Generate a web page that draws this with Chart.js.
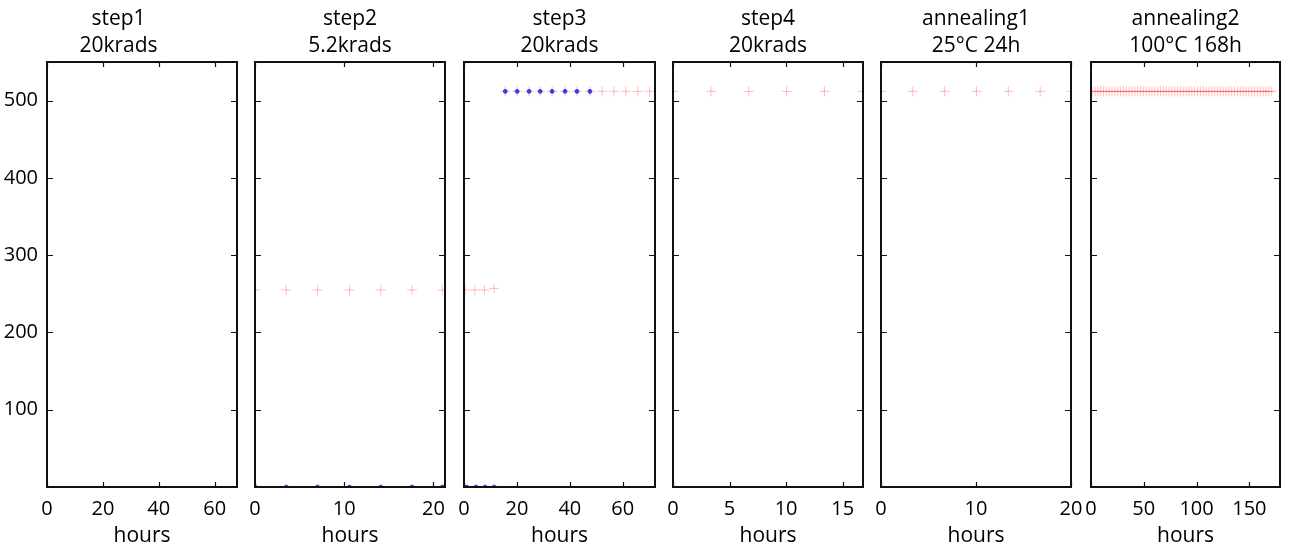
<!DOCTYPE html>
<html>
<head>
<meta charset="utf-8">
<script src="https://cdn.jsdelivr.net/npm/chart.js@4"></script>
<style>
html, body { margin: 0; padding: 0; background: #fff; }
#wrap { position: relative; width: 1289px; height: 549px; overflow: hidden; }
#wrap canvas { position: absolute; top: 0; }
</style>
</head>
<body>
<div id="wrap"></div>
<script>
// panel titles and x ranges
const titles = [
  ["step1", "20krads"],
  ["step2", "5.2krads"],
  ["step3", "20krads"],
  ["step4", "20krads"],
  ["annealing1", "25°C 24h"],
  ["annealing2", "100°C 168h"]
];
const xMax = [68, 21.3, 72.2, 16.8, 20, 179];
const xStep = [20, 10, 20, 5, 10, 50];
const yTicks = [100, 200, 300, 400, 500];

// step2
const step2Hours = [0, 3.5, 7.0, 10.6, 14.1, 17.6, 21.0];
const step2Red = [255, 255, 255, 255, 255, 255, 255];
const step2Blue = [0, 0, 0, 0, 0, 0, 0];

// step3
const step3RedHours = [0.4, 4.1, 7.7, 11.4, 15.6, 20.1, 24.6, 28.8, 33.3, 38.2, 42.7, 47.6, 52.2, 56.7, 61.2, 65.7, 70.2, 74.7];
const step3Red = [255, 255, 255, 257, 512, 512, 512, 512, 512, 512, 512, 512, 512, 512, 512, 512, 512, 512];
const step3BlueHours = [1.0, 4.5, 8.0, 11.4, 15.6, 20.1, 24.6, 28.8, 33.3, 38.2, 42.7, 47.6];
const step3Blue = [0, 0, 0, 0, 512, 512, 512, 512, 512, 512, 512, 512];

// step4
const step4Hours = [0, 3.35, 6.7, 10.05, 13.4, 16.75];
const step4Red = [512, 512, 512, 512, 512, 512];

// annealing1
const anneal1Hours = [0, 3.35, 6.7, 10.05, 13.4, 16.75, 20.1];
const anneal1Red = [512, 512, 512, 512, 512, 512, 512];

// annealing2
const anneal2Hours = [1, 3.7, 6.4, 9.1, 11.8, 14.5, 17.2, 19.9, 22.6, 25.3, 28, 30.7, 33.4, 36.1, 38.8, 41.5,
  44.2, 46.9, 49.6, 52.3, 55, 57.7, 60.4, 63.1, 65.8, 68.5, 71.2, 73.9, 76.6, 79.3, 82, 84.7,
  87.4, 90.1, 92.8, 95.5, 98.2, 100.9, 103.6, 106.3, 109, 111.7, 114.4, 117.1, 119.8, 122.5, 125.2, 127.9,
  130.6, 133.3, 136, 138.7, 141.4, 144.1, 146.8, 149.5, 152.2, 154.9, 157.6, 160.3, 163, 165.7, 168.4, 171.1];
const anneal2Red = [512, 512, 512, 512, 512, 512, 512, 512, 512, 512, 512, 512, 512, 512, 512, 512,
  512, 512, 512, 512, 512, 512, 512, 512, 512, 512, 512, 512, 512, 512, 512, 512,
  512, 512, 512, 512, 512, 512, 512, 512, 512, 512, 512, 512, 512, 512, 512, 512,
  512, 512, 512, 512, 512, 512, 512, 512, 512, 512, 512, 512, 512, 512, 512, 512];

function pts(xs, ys) {
  return xs.map((x, i) => ({x: x, y: ys[i]}));
}

const redSeries = [
  [],
  pts(step2Hours, step2Red),
  pts(step3RedHours, step3Red),
  pts(step4Hours, step4Red),
  pts(anneal1Hours, anneal1Red),
  pts(anneal2Hours, anneal2Red)
];
const blueSeries = [
  [],
  pts(step2Hours, step2Blue),
  pts(step3BlueHours, step3Blue),
  [], [], []
];

// layout of the plot areas
const areaLeft = [47, 255, 464, 673, 881, 1091];
const areaWidth = [190, 190, 191, 190, 190, 189];
const side = 24;

Chart.defaults.font.family = "'Open Sans', sans-serif";
Chart.defaults.color = "#000";

// matplotlib style frame with inward ticks on all sides
const framePlugin = {
  id: "frame",
  afterDraw(chart) {
    const ctx = chart.ctx;
    const a = chart.chartArea;
    const x = chart.scales.x, y = chart.scales.y;
    ctx.save();
    ctx.strokeStyle = "#111";
    ctx.lineWidth = 1.2;
    ctx.beginPath();
    x.ticks.forEach(t => {
      const px = Math.round(x.getPixelForValue(t.value)) + 0.5;
      ctx.moveTo(px, a.bottom); ctx.lineTo(px, a.bottom - 5);
      ctx.moveTo(px, a.top); ctx.lineTo(px, a.top + 5);
    });
    y.ticks.forEach(t => {
      const py = Math.round(y.getPixelForValue(t.value)) + 0.5;
      ctx.moveTo(a.left, py); ctx.lineTo(a.left + 6, py);
      ctx.moveTo(a.right, py); ctx.lineTo(a.right - 6, py);
    });
    ctx.stroke();
    ctx.lineWidth = 2;
    ctx.strokeRect(a.left, a.top, a.right - a.left, a.bottom - a.top);
    ctx.restore();
  }
};

const wrap = document.getElementById("wrap");

for (let i = 0; i < 6; i++) {
  const first = i === 0;
  const padL = first ? 0 : side;
  const yw = first ? 47 : 0;
  const padR = first ? 47 : side;
  const cv = document.createElement("canvas");
  cv.width = yw + padL + areaWidth[i] + padR;
  cv.height = 549;
  cv.style.left = (areaLeft[i] - yw - padL) + "px";
  wrap.appendChild(cv);

  new Chart(cv.getContext("2d"), {
    type: "scatter",
    data: {
      datasets: [
        {
          data: blueSeries[i],
          pointStyle: "star",
          radius: 2.3,
          borderWidth: 1.5,
          borderColor: "rgba(20,20,235,0.8)",
          backgroundColor: "rgba(20,20,235,0.8)",
          clip: 0
        },
        {
          data: redSeries[i],
          pointStyle: "cross",
          radius: 5,
          borderWidth: 1,
          borderColor: "rgba(255,0,0,0.26)",
          backgroundColor: "rgba(255,0,0,0.26)",
          clip: 0
        }
      ]
    },
    options: {
      responsive: false,
      animation: false,
      layout: { padding: { left: padL, right: padR, top: 0, bottom: 0 } },
      plugins: {
        legend: { display: false },
        tooltip: { enabled: false },
        title: {
          display: true,
          text: titles[i],
          font: { size: 21, weight: "normal", lineHeight: 1.286 },
          color: "#000",
          padding: { top: 6, bottom: 2 }
        }
      },
      scales: {
        x: {
          type: "linear",
          min: 0,
          max: xMax[i],
          grid: { display: false, drawTicks: false },
          border: { display: false },
          ticks: { stepSize: xStep[i], includeBounds: false, font: { size: 20 }, padding: 10, maxRotation: 0, autoSkip: false },
          title: { display: true, text: "hours", font: { size: 21 }, padding: { top: 0, bottom: 0 } },
          afterFit(s) { s.height = 62; }
        },
        y: {
          type: "linear",
          min: 0,
          max: 550,
          grid: { display: false, drawTicks: false },
          border: { display: false },
          afterBuildTicks(s) { s.ticks = yTicks.map(v => ({value: v})); },
          ticks: { display: first, font: { size: 20 }, padding: 9 },
          afterFit(s) { s.width = yw; }
        }
      }
    },
    plugins: [framePlugin]
  });
}
</script>
</body>
</html>
